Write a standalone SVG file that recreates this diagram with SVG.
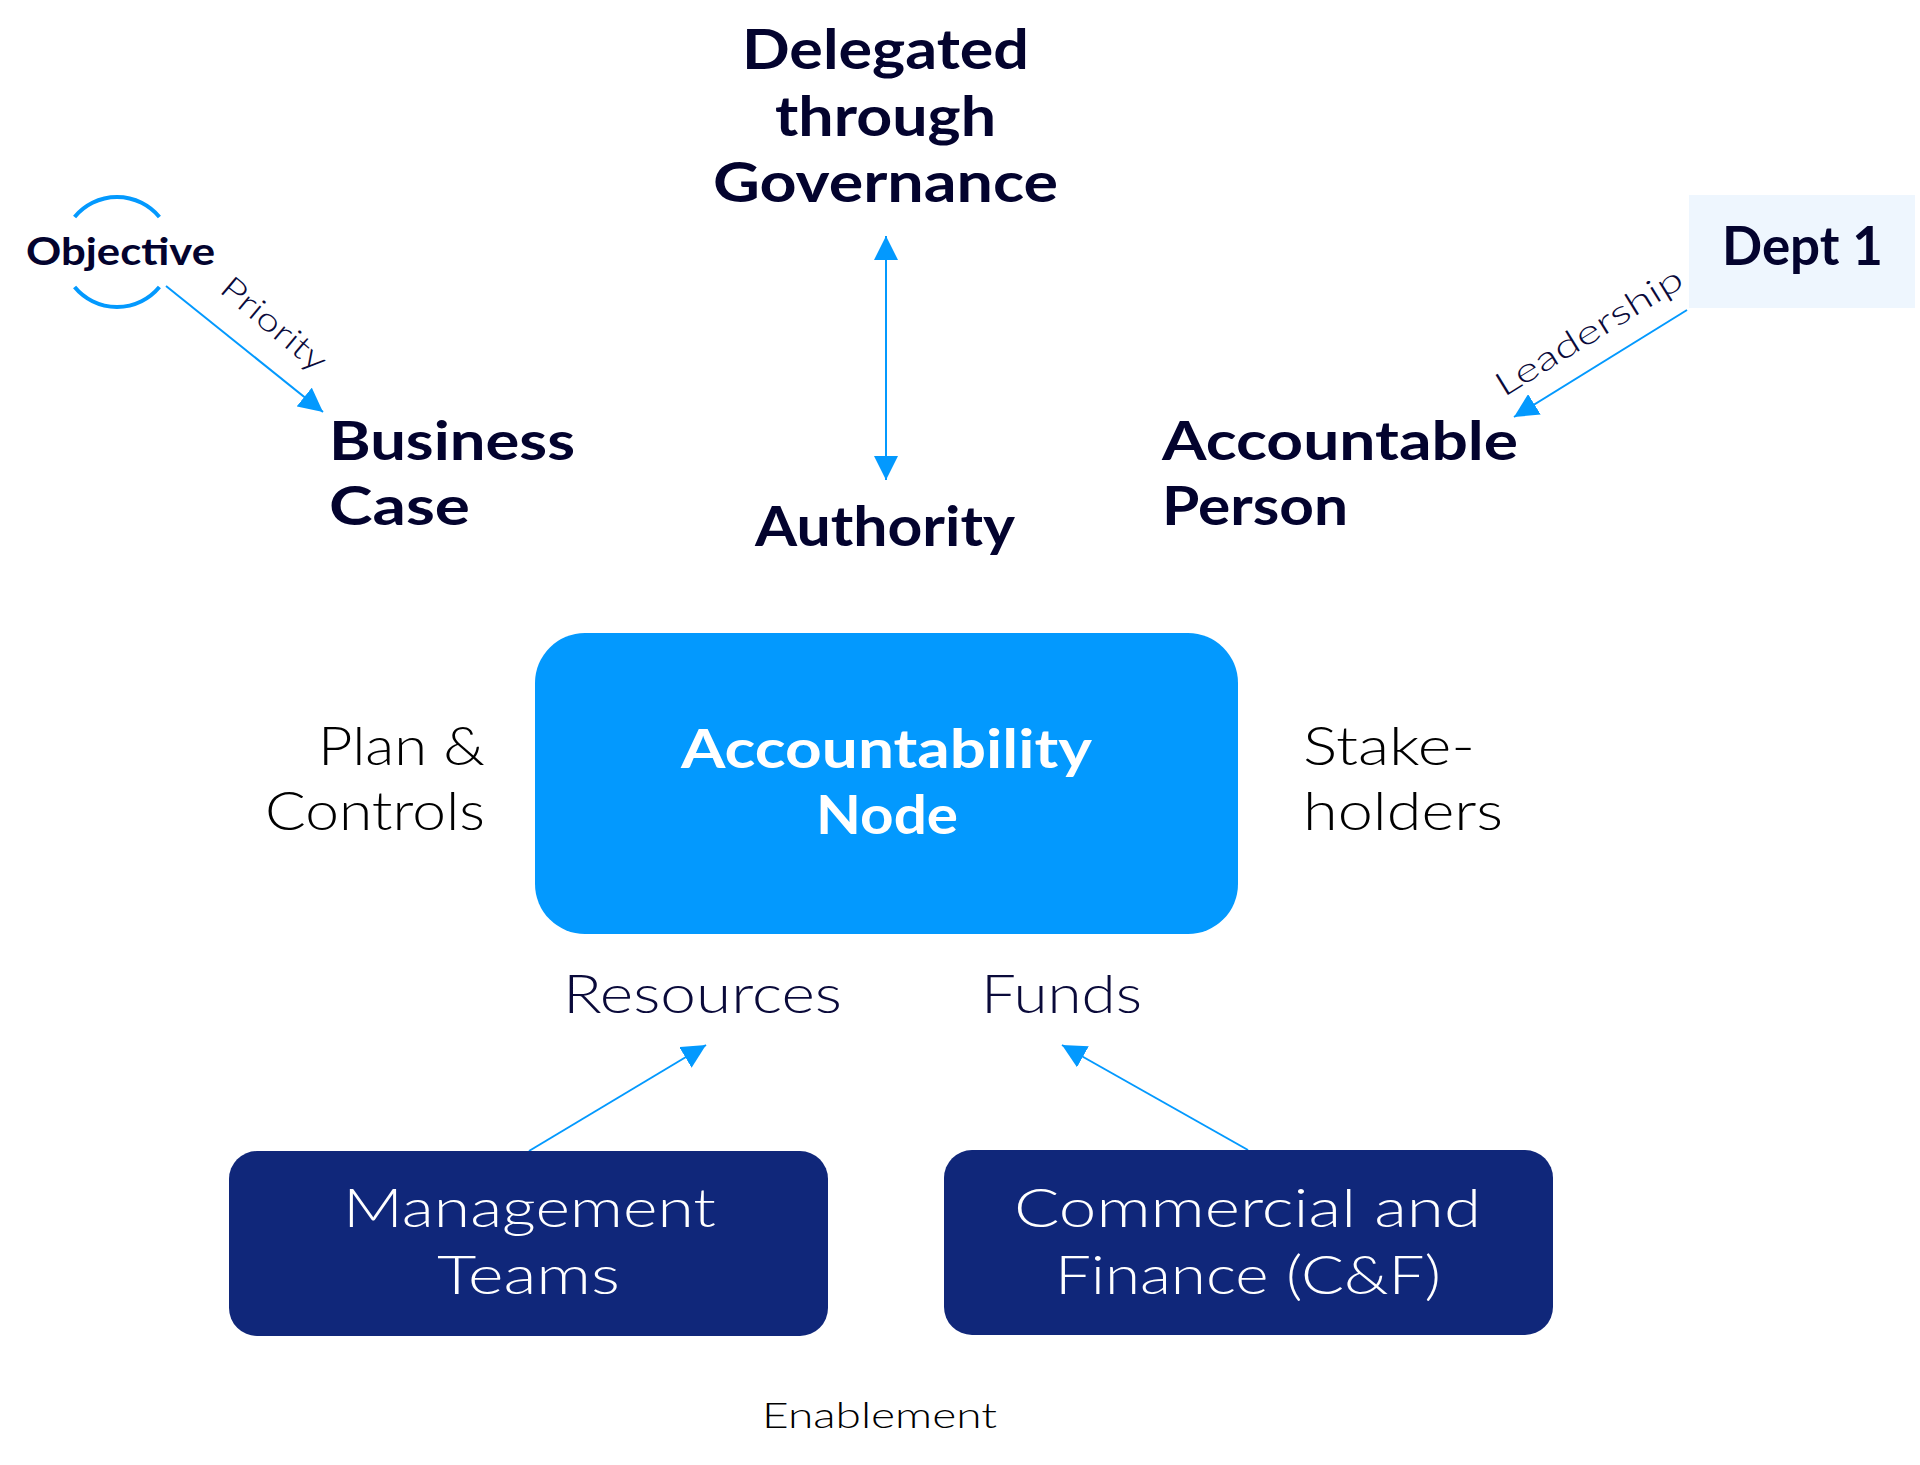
<svg xmlns="http://www.w3.org/2000/svg" width="1920" height="1465" viewBox="0 0 1920 1465">
<style>
.b{font-family:Lato,"Open Sans","Liberation Sans",sans-serif;font-weight:700;fill:#03032E}
.l{font-family:Lato,"Open Sans","Liberation Sans",sans-serif;font-weight:300;fill:#000}
.ln{font-family:Lato,"Open Sans","Liberation Sans",sans-serif;font-weight:300;fill:#0A0A3A}
.w{font-family:Lato,"Open Sans","Liberation Sans",sans-serif;fill:#fff}
.c{stroke:#0399FE;stroke-width:2;fill:none}
</style>
<defs>
<marker id="ah" markerUnits="userSpaceOnUse" markerWidth="24" markerHeight="24" viewBox="0 0 22 22" refX="22" refY="11" orient="auto-start-reverse">
<path d="M0,0 L22,11 L0,22 z" fill="#0399FE"/>
</marker>
</defs>
<rect width="1920" height="1465" fill="#fff"/>

<g id="connectors">
<line class="c" x1="886" y1="236" x2="886" y2="480" marker-start="url(#ah)" marker-end="url(#ah)"/>
<line class="c" x1="166" y1="286" x2="323" y2="412" marker-end="url(#ah)"/>
<line class="c" x1="1687" y1="310" x2="1514" y2="417" marker-end="url(#ah)"/>
<line class="c" x1="529" y1="1151" x2="706" y2="1045" marker-end="url(#ah)"/>
<line class="c" x1="1248" y1="1150" x2="1062" y2="1045" marker-end="url(#ah)"/>
<text class="ln" font-size="32" x="-64" y="11" textLength="128" lengthAdjust="spacingAndGlyphs" transform="translate(274,324) rotate(40)">Priority</text>
<text class="ln" font-size="33" x="-107" y="11" textLength="214" lengthAdjust="spacingAndGlyphs" transform="translate(1589,332) rotate(-31.7)">Leadership</text>
</g>

<g id="objective">
<path d="M74.6,217 A55,55 0 0 1 159.4,217" stroke="#0399FE" stroke-width="4" fill="none"/>
<path d="M74.6,287 A55,55 0 0 0 159.4,287" stroke="#0399FE" stroke-width="4" fill="none"/>
<text class="b" x="26" y="265" font-size="38" textLength="189" lengthAdjust="spacingAndGlyphs">Objective</text>
</g>

<g id="governance">
<text class="b" x="742" y="69" font-size="55" textLength="287" lengthAdjust="spacingAndGlyphs">Delegated</text>
<text class="b" x="775" y="136" font-size="55" textLength="221" lengthAdjust="spacingAndGlyphs">through</text>
<text class="b" x="713" y="202" font-size="55" textLength="345" lengthAdjust="spacingAndGlyphs">Governance</text>
</g>

<g id="authority">
<text class="b" x="755" y="546" font-size="55" textLength="260" lengthAdjust="spacingAndGlyphs">Authority</text>
</g>

<g id="business-case">
<text class="b" x="329" y="460" font-size="53" textLength="246" lengthAdjust="spacingAndGlyphs">Business</text>
<text class="b" x="329" y="525" font-size="53" textLength="141" lengthAdjust="spacingAndGlyphs">Case</text>
</g>

<g id="accountable-person">
<text class="b" x="1162" y="460" font-size="53" textLength="356" lengthAdjust="spacingAndGlyphs">Accountable</text>
<text class="b" x="1162" y="525" font-size="53" textLength="186" lengthAdjust="spacingAndGlyphs">Person</text>
</g>

<g id="dept1">
<rect x="1689" y="195" width="226" height="113" fill="#EEF6FE"/>
<text class="b" x="1722" y="265" font-size="53" textLength="161" lengthAdjust="spacingAndGlyphs">Dept 1</text>
</g>

<g id="accountability-node">
<rect x="535" y="633" width="703" height="301" rx="50" ry="50" fill="#0399FE"/>
<text class="w" x="681" y="768" font-size="53" font-weight="700" textLength="411" lengthAdjust="spacingAndGlyphs">Accountability</text>
<text class="w" x="816" y="834" font-size="53" font-weight="700" textLength="142" lengthAdjust="spacingAndGlyphs">Node</text>
</g>

<g id="plan-controls">
<text class="l" x="318" y="765" font-size="53" textLength="167" lengthAdjust="spacingAndGlyphs">Plan &amp;</text>
<text class="l" x="265" y="830" font-size="53" textLength="220" lengthAdjust="spacingAndGlyphs">Controls</text>
</g>

<g id="stakeholders">
<text class="l" x="1303" y="765" font-size="53" textLength="172" lengthAdjust="spacingAndGlyphs">Stake-</text>
<text class="l" x="1303" y="830" font-size="53" textLength="200" lengthAdjust="spacingAndGlyphs">holders</text>
</g>

<g id="resources">
<text class="ln" x="563" y="1013" font-size="53" textLength="279" lengthAdjust="spacingAndGlyphs">Resources</text>
</g>

<g id="funds">
<text class="ln" x="981" y="1013" font-size="53" textLength="161" lengthAdjust="spacingAndGlyphs">Funds</text>
</g>

<g id="management-teams">
<rect x="229" y="1151" width="599" height="185" rx="28" ry="28" fill="#10277A"/>
<text class="w" x="343" y="1227" font-size="53" font-weight="300" textLength="373" lengthAdjust="spacingAndGlyphs">Management</text>
<text class="w" x="437" y="1294" font-size="53" font-weight="300" textLength="183" lengthAdjust="spacingAndGlyphs">Teams</text>
</g>

<g id="commercial-finance">
<rect x="944" y="1150" width="609" height="185" rx="28" ry="28" fill="#10277A"/>
<text class="w" x="1014" y="1227" font-size="53" font-weight="300" textLength="467" lengthAdjust="spacingAndGlyphs">Commercial and</text>
<text class="w" x="1055" y="1294" font-size="53" font-weight="300" textLength="386" lengthAdjust="spacingAndGlyphs">Finance (C&amp;F)</text>
</g>

<g id="enablement">
<text class="l" x="762" y="1428" font-size="36" textLength="235" lengthAdjust="spacingAndGlyphs" fill="#111">Enablement</text>
</g>
</svg>
